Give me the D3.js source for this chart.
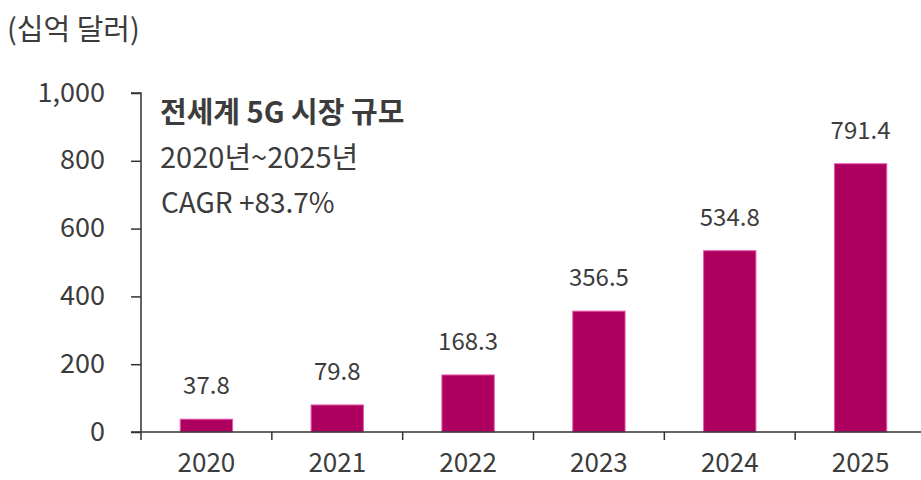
<!DOCTYPE html>
<html><head><meta charset="utf-8">
<script src="https://cdn.jsdelivr.net/npm/d3@7"></script>
<style>body{margin:0;background:#fff}svg{display:block}text{font-family:"Noto Sans CJK KR","Noto Sans",sans-serif;fill:#3c3c3c}</style>
</head><body><svg id="c" width="921" height="480"></svg>
<script>
const years = ["2020","2021","2022","2023","2024","2025"];
const values = [37.8, 79.8, 168.3, 356.5, 534.8, 791.4];
const yTicks = [0, 200, 400, 600, 800, 1000];
const unitLabel = "(십억 달러)";
const noteLines = ["전세계 5G 시장 규모", "2020년~2025년", "CAGR +83.7%"];

const svg = d3.select("#c");
const x = d3.scaleBand().domain(years).range([141, 926]).paddingInner(0.6).paddingOuter(0.3);
const y = d3.scaleLinear().domain([0, 1000]).range([432, 93]);

// y axis
const ya = svg.append("g").attr("transform","translate(141,0)")
  .call(d3.axisLeft(y).tickValues(yTicks).tickSize(10).tickPadding(26).tickFormat(d3.format(",")));
ya.select(".domain").attr("d","M-10,93H0V440").attr("stroke","#333").attr("stroke-width",1.5);
ya.selectAll(".tick line").attr("stroke","#333").attr("stroke-width",1.5);
ya.selectAll(".tick text").style("font-size","27px").attr("fill","#3c3c3c").attr("dy","0.3em");

// bars
svg.selectAll("rect.bar").data(values).join("rect").attr("class","bar")
  .attr("x",(d,i)=>x(years[i])).attr("width",x.bandwidth())
  .attr("y",d=>y(d)).attr("height",d=>y(0)-y(d))
  .attr("fill","#ad005e").attr("stroke","#e85aae").attr("stroke-width",1);

// x axis
const step = x.step();
svg.append("line").attr("x1",131).attr("x2",921).attr("y1",432).attr("y2",432).attr("stroke","#333").attr("stroke-width",1.5);
years.slice(1).forEach((yr)=>{
  const bx = x(yr) - x.paddingInner()*step/2;
  svg.append("line").attr("x1",bx).attr("x2",bx).attr("y1",432).attr("y2",440).attr("stroke","#333").attr("stroke-width",1.5);
});
svg.selectAll("text.xl").data(years).join("text").attr("class","xl")
  .attr("x",d=>x(d)+x.bandwidth()/2).attr("y",472).attr("text-anchor","middle")
  .style("font-size","26px").text(d=>d);

// value labels
svg.selectAll("text.vl").data(values).join("text").attr("class","vl")
  .attr("x",(d,i)=>x(years[i])+x.bandwidth()/2).attr("y",d=>y(d)-25).attr("text-anchor","middle")
  .style("font-size","24px").text(d=>d.toFixed(1));

// unit
svg.append("text").attr("x",7).attr("y",40).style("font-size","29px").text(unitLabel);
// notes
svg.append("text").attr("x",160).attr("y",123).style("font-size","29px").style("font-weight","bold").attr("fill","#222").text(noteLines[0]);
svg.append("text").attr("x",160).attr("y",168).style("font-size","29px").text(noteLines[1]);
svg.append("text").attr("x",161).attr("y",213).style("font-size","28px").text(noteLines[2]);
</script></body></html>
